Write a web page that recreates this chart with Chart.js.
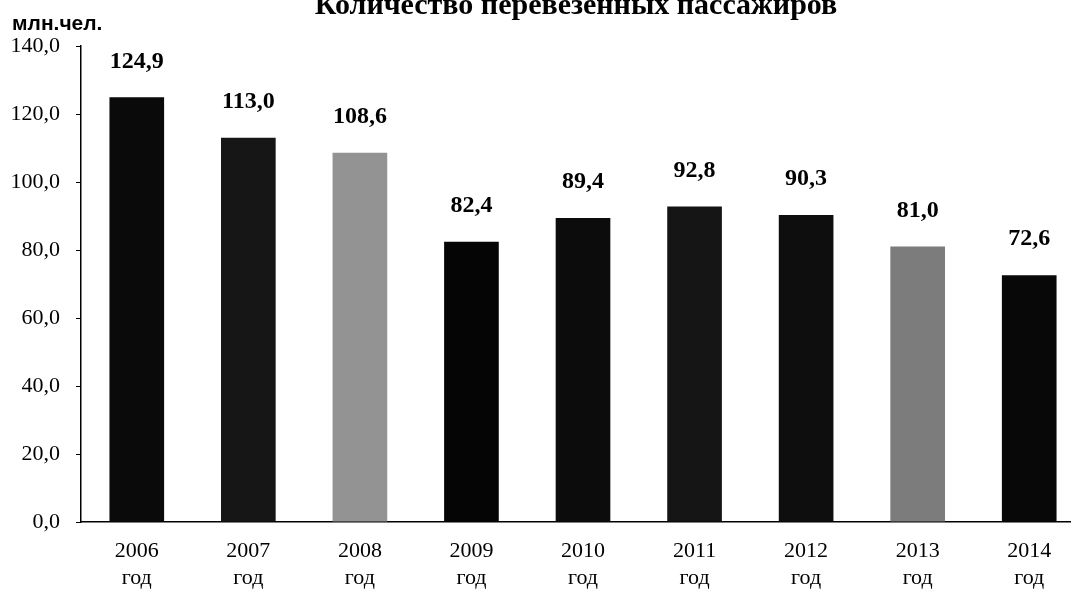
<!DOCTYPE html>
<html>
<head>
<meta charset="utf-8">
<script src="https://cdn.jsdelivr.net/npm/chart.js@4.4.1/dist/chart.umd.min.js"></script>
<style>
html,body{margin:0;padding:0;background:#fff;overflow:hidden;width:1071px;height:591px;}
#wrap{position:absolute;left:0;top:0;width:1090px;height:591px;}
</style>
</head>
<body>
<div id="wrap"><canvas id="c" width="1090" height="591"></canvas></div>
<script>
const years = ['2006','2007','2008','2009','2010','2011','2012','2013','2014'];
const yearSuffix = 'год';
const passengers = [124.9, 113.0, 108.6, 82.4, 89.4, 92.8, 90.3, 81.0, 72.6];
const barColors = ['#0a0a0a','#161616','#939393','#050505','#0c0c0c','#151515','#0e0e0e','#7c7c7c','#080808'];
const yTicks = [0,20,40,60,80,100,120,140];
const titleText = 'Количество перевезенных пассажиров';
const unitText = 'млн.чел.';

const fmt = v => v.toFixed(1).replace('.', ',');

const overlayText = {
  id: 'overlayText',
  afterDraw(chart) {
    const ctx = chart.ctx;
    ctx.save();
    ctx.fillStyle = '#000';
    ctx.textAlign = 'center';
    ctx.textBaseline = 'alphabetic';
    ctx.font = 'bold 30px "Liberation Serif"';
    ctx.fillText(titleText, 576, 14);
    ctx.textAlign = 'left';
    ctx.font = 'bold 21px "Liberation Sans"';
    ctx.fillText(unitText, 12, 30);
    const meta = chart.getDatasetMeta(0);
    ctx.textAlign = 'center';
    ctx.textBaseline = 'middle';
    ctx.font = 'bold 24px "Liberation Serif"';
    meta.data.forEach((bar, i) => {
      ctx.fillText(fmt(passengers[i]), bar.x, bar.y - 36);
    });
    ctx.restore();
  }
};

new Chart(document.getElementById('c'), {
  type: 'bar',
  data: {
    labels: years.map(y => [y, yearSuffix]),
    datasets: [{
      data: passengers,
      backgroundColor: barColors,
      borderWidth: 0,
      barPercentage: 0.49,
      categoryPercentage: 1.0
    }]
  },
  options: {
    responsive: false,
    animation: false,
    devicePixelRatio: 1,
    layout: { padding: { left: 0, right: 5, top: 46, bottom: 0 } },
    plugins: { legend: { display: false }, tooltip: { enabled: false }, title: { display: false } },
    scales: {
      x: {
        afterFit(scale) { scale.height = 69; },
        grid: { drawOnChartArea: false, drawTicks: false },
        border: { display: true, color: '#000', width: 1.5 },
        ticks: {
          color: '#000',
          font: { family: '"Liberation Serif"', size: 22, lineHeight: 1.25 },
          padding: 15,
          maxRotation: 0,
          autoSkip: false
        }
      },
      y: {
        min: 0, max: 140,
        afterFit(scale) { scale.width = 81; },
        afterBuildTicks(scale) { scale.ticks = yTicks.map(v => ({ value: v })); },
        grid: { drawOnChartArea: false, drawTicks: true, tickLength: 5, color: '#000', lineWidth: 1 },
        border: { display: true, color: '#000', width: 1.5 },
        ticks: {
          color: '#000',
          font: { family: '"Liberation Serif"', size: 22 },
          padding: 16,
          callback: v => fmt(v)
        }
      }
    }
  },
  plugins: [overlayText]
});
</script>
</body>
</html>
